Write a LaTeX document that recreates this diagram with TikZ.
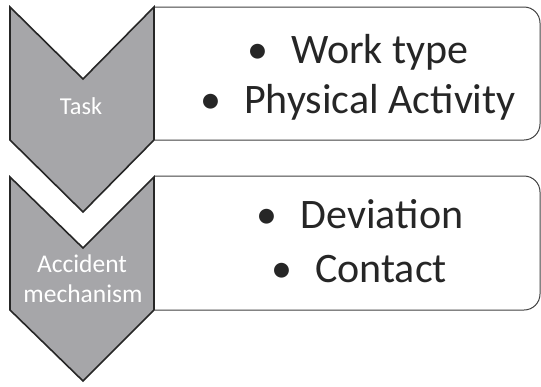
\documentclass[tikz,border=0pt]{standalone}
\usepackage{fontspec}
\setmainfont{Carlito}
\usetikzlibrary{positioning}

\begin{document}
\begin{tikzpicture}[x=1pt,y=-1pt,
  chev/.style={fill=chevgray,draw=black!85,line width=1.6pt,line join=miter},
  itembox/.style={draw=black!75,line width=1pt,rounded corners=16pt},
  chevtext/.style={text=white,font=\fontsize{25.5}{30}\selectfont,anchor=base},
  item/.style={text=black!85,font=\fontsize{42}{50}\selectfont,anchor=base}]
\definecolor{chevgray}{HTML}{A6A6A9}
\useasboundingbox (0,0) rectangle (541,386);
% boxes on the right
\draw[itembox] (155,7) -- (540,7) -- (540,140) -- (155,140);
\draw[itembox] (155,176) -- (540,176) -- (540,310) -- (155,310);
% chevrons
\draw[chev] (10,7) -- (83,79) -- (154,7) -- (154,140) -- (83,212) -- (10,140) -- cycle;
\draw[chev] (10,177) -- (83,248) -- (154,177) -- (154,310) -- (83,381) -- (10,310) -- cycle;
\node[chevtext,font=\fontsize{24.3}{30}\selectfont] (task) at (81,114) {Task};
\node[chevtext] (accident) at (82,272) {Accident};
\node[chevtext] (mechanism) at (83,302) {mechanism};
% items
\node[item] (worktype) at (358,63) {\textbullet\hspace{0.55em}Work type};
\node[item] (physact) at (358,113) {\textbullet\hspace{0.55em}Physical Activity};
\node[item] (deviation) at (360,228) {\textbullet\hspace{0.55em}Deviation};
\node[item] (contact) at (359,282) {\textbullet\hspace{0.55em}Contact};
\end{tikzpicture}
\end{document}
